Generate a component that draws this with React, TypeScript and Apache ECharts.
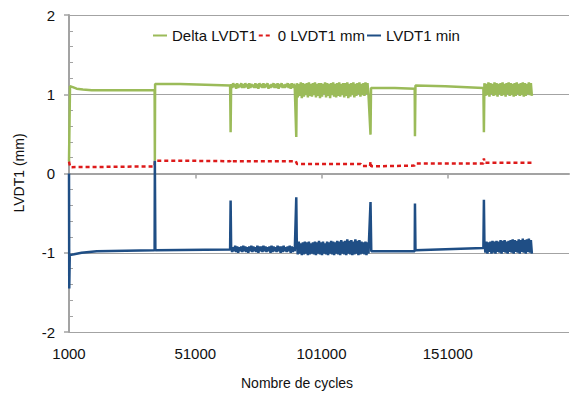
import React, { useEffect, useRef } from "react";
import * as echarts from "echarts";

// ---- Data ----
const xTickStart = 1000;
const xTickStep = 50000;
const xMax = 199000;
const yTicks = [-2, -1, 0, 1, 2];
const legendNames = ["Delta LVDT1", "0 LVDT1 mm", "LVDT1 min"];

// Delta LVDT1 — steady parts and spikes
const deltaPartA: [number, number][] = [
  [1000, 0.15], [1400, 1.1], [2500, 1.09], [4000, 1.07], [6500, 1.06], [10000, 1.05],
  [20000, 1.05], [34900, 1.05], [35000, 0.16], [35100, 1.13], [45000, 1.13], [55000, 1.12],
  [64800, 1.11], [65000, 0.52],
];
const deltaBandA = [
  1.13, 1.08, 1.14, 1.09, 1.13, 1.07, 1.14, 1.08, 1.12, 1.09, 1.14, 1.08, 1.13, 1.08, 1.14, 1.09,
  1.13, 1.07, 1.14, 1.08, 1.13, 1.09, 1.12, 1.08, 1.14, 1.08, 1.13, 1.07, 1.14, 1.09, 1.13, 1.08,
  1.14, 1.08, 1.13, 1.09, 1.14, 1.07, 1.12, 1.08, 1.13, 1.09, 1.14, 1.08, 1.13, 1.08, 1.14, 1.07,
  1.13, 1.09, 1.14, 1.08, 1.12, 1.08, 1.13, 1.09, 1.14, 1.08, 1.13, 1.07, 1.14, 1.08, 1.13, 1.09,
];
const deltaPartB: [number, number][] = [[91000, 0.46]];
const deltaBandB = [
  1.14, 0.96, 1.13, 0.98, 1.15, 0.95, 1.14, 0.97, 1.13, 0.99, 1.14, 0.96, 1.15, 0.98, 1.13, 0.97, 1.14, 0.99,
  1.15, 0.96, 1.13, 0.98, 1.14, 0.95, 1.14, 0.97, 1.13, 1.0, 1.15, 0.96, 1.14, 0.98, 1.13, 0.95, 1.14, 0.99,
  1.15, 0.97, 1.13, 0.96, 1.14, 0.98, 1.15, 0.97, 1.13, 0.99, 1.14, 0.96, 1.14, 0.98, 1.15, 0.95, 1.13, 0.97,
  1.14, 0.99, 1.15, 0.96, 1.13, 0.98, 1.14, 1.0, 1.15, 0.97, 1.13, 0.99, 1.14, 0.98, 1.15, 1.0, 1.14, 0.99,
];
const deltaPartC: [number, number][] = [
  [120400, 0.49], [120600, 1.08], [130000, 1.08], [137900, 1.07], [138000, 0.47], [138200, 1.11],
  [150000, 1.1], [165100, 1.08], [165300, 0.52],
];
const deltaBandC = [
  1.14, 0.98, 1.13, 0.99, 1.15, 0.97, 1.14, 1.0, 1.13, 0.98, 1.15, 0.99, 1.14, 0.97, 1.13, 1.0,
  1.14, 0.98, 1.15, 0.99, 1.13, 0.97, 1.14, 1.0, 1.15, 0.98, 1.14, 0.99, 1.13, 0.97, 1.14, 0.98,
  1.15, 1.0, 1.13, 0.98, 1.14, 0.99, 1.15, 0.97, 1.14, 0.98, 1.13, 1.0, 1.15, 0.99, 1.14, 0.98,
];

// 0 LVDT1 mm
const zeroData: [number, number][] = [
  [1000, 0.15], [1500, 0.08], [20000, 0.085], [34900, 0.09], [35000, 0.16], [50000, 0.16],
  [64800, 0.155], [65000, 0.17], [65300, 0.155], [90800, 0.155], [91000, 0.16], [91300, 0.12],
  [116500, 0.12], [117000, 0.095], [120200, 0.095], [120400, 0.15], [120700, 0.09], [137800, 0.1],
  [138200, 0.125], [165100, 0.125], [165300, 0.19], [165600, 0.135], [184400, 0.135],
];

// LVDT1 min
const minPartA: [number, number][] = [
  [1000, 0], [1100, -1.45], [1300, -1.03], [3000, -1.02], [6000, -1.0], [12000, -0.98],
  [34900, -0.97], [35000, 0.16], [35200, -0.97], [64800, -0.96], [65000, -0.34],
];
const minBandA = [
  -0.92, -0.99, -0.93, -0.98, -0.91, -0.99, -0.92, -1.0, -0.93, -0.98, -0.92, -0.99, -0.91, -0.98, -0.92, -0.99,
  -0.93, -1.0, -0.92, -0.98, -0.91, -0.99, -0.92, -0.98, -0.93, -0.99, -0.91, -1.0, -0.92, -0.98, -0.92, -0.99,
  -0.91, -0.98, -0.92, -0.99, -0.93, -0.98, -0.92, -1.0, -0.91, -0.99, -0.92, -0.98, -0.93, -0.99, -0.91, -0.98,
  -0.92, -1.0, -0.92, -0.99, -0.91, -0.98, -0.93, -0.99, -0.92, -0.98, -0.91, -1.0, -0.92, -0.99, -0.93, -0.98,
];
const minPartB: [number, number][] = [[91000, -0.3]];
const minBandB = [
  -0.87, -1.02, -0.86, -1.01, -0.88, -1.03, -0.87, -1.02, -0.86, -1.01, -0.87, -1.03, -0.86, -1.02, -0.88, -1.01, -0.87, -1.02,
  -0.86, -1.03, -0.87, -1.01, -0.85, -1.02, -0.87, -1.03, -0.86, -1.01, -0.88, -1.02, -0.86, -1.03, -0.87, -1.01, -0.85, -1.02,
  -0.86, -1.03, -0.87, -1.01, -0.85, -1.02, -0.86, -1.03, -0.84, -1.01, -0.86, -1.02, -0.85, -1.03, -0.83, -1.01, -0.85, -1.02,
  -0.84, -1.03, -0.86, -1.02, -0.83, -1.01, -0.85, -1.03, -0.84, -1.02, -0.86, -1.01, -0.87, -1.02, -0.86, -1.03, -0.87, -1.01,
];
const minPartC: [number, number][] = [
  [120400, -0.36], [120700, -0.98], [137900, -0.98], [138000, -0.38], [138200, -0.97],
  [165100, -0.94], [165300, -0.33],
];
const minBandC = [
  -0.87, -1.0, -0.86, -1.01, -0.87, -0.99, -0.86, -1.01, -0.85, -1.0, -0.86, -1.01, -0.85, -0.99, -0.86, -1.0,
  -0.84, -1.01, -0.85, -0.99, -0.84, -1.0, -0.86, -1.01, -0.85, -0.99, -0.84, -1.0, -0.83, -1.01, -0.84, -0.99,
  -0.85, -1.0, -0.83, -1.01, -0.84, -0.99, -0.82, -1.0, -0.84, -1.01, -0.83, -0.99, -0.82, -1.0, -0.84, -1.01,
];

// sampling positions of the noisy bands (cycles)
const bandAStart = 65200, bandBStart = 91200, bandCStart = 165500;
const bandStep = 400;

const band = (start: number, vals: number[]): [number, number][] =>
  vals.map((v, i) => [start + i * bandStep, v]);

const deltaData = [
  ...deltaPartA, ...band(bandAStart, deltaBandA),
  ...deltaPartB, ...band(bandBStart, deltaBandB),
  ...deltaPartC, ...band(bandCStart, deltaBandC),
];
const minData = [
  ...minPartA, ...band(bandAStart, minBandA),
  ...minPartB, ...band(bandBStart, minBandB),
  ...minPartC, ...band(bandCStart, minBandC),
];

const FONT = "Liberation Sans";
const GRAY = "#A3A3A3";
const TXT = "#111111";

export default function App() {
  const ref = useRef<HTMLDivElement>(null);
  useEffect(() => {
    if (!ref.current) return;
    const chart = echarts.init(ref.current, null, { renderer: "svg" });
    chart.setOption({
      animation: false,
      backgroundColor: "#ffffff",
      textStyle: { fontFamily: FONT },
      grid: { left: 69, right: 1, top: 15, bottom: 64 },
      legend: {
        data: legendNames,
        left: 152,
        top: 28,
        padding: 0,
        itemGap: 1,
        itemWidth: 14,
        itemHeight: 10,
        itemStyle: { opacity: 0 },
        textStyle: { fontFamily: FONT, fontSize: 15, color: TXT },
      },
      xAxis: {
        type: "value",
        min: xTickStart,
        max: xMax,
        interval: xTickStep,
        axisLine: { show: true, lineStyle: { color: GRAY, width: 2 } },
        axisTick: { show: true, length: 5, lineStyle: { color: GRAY, width: 1.5 } },
        splitLine: { show: false },
        axisLabel: {
          showMaxLabel: false,
          margin: 14,
          fontSize: 15,
          color: TXT,
          fontFamily: FONT,
          formatter: (v: number) => String(v),
        },
      },
      yAxis: [
        {
          type: "value",
          min: yTicks[0],
          max: yTicks[yTicks.length - 1],
          interval: 1,
          axisLine: { show: true, lineStyle: { color: GRAY, width: 2 } },
          axisTick: { show: true, length: 5, lineStyle: { color: GRAY, width: 1.5 } },
          splitLine: { show: true, lineStyle: { color: GRAY, width: 1 } },
          axisLabel: { margin: 14, fontSize: 15, color: TXT, fontFamily: FONT },
        },
        {
          type: "value",
          position: "left",
          min: -2,
          max: 2,
          interval: 0.2,
          axisLine: { show: false },
          axisTick: { show: true, inside: true, length: 4, lineStyle: { color: GRAY, width: 1 } },
          axisLabel: { show: false },
          splitLine: { show: false },
        },
      ],
      graphic: [
        {
          type: "text",
          x: 19,
          y: 173,
          rotation: Math.PI / 2,
          style: {
            text: "LVDT1 (mm)",
            fontFamily: FONT,
            fontSize: 14,
            fill: TXT,
            textAlign: "center",
            textVerticalAlign: "middle",
          },
        },
        {
          type: "text",
          x: 297,
          y: 383,
          style: {
            text: "Nombre de cycles",
            fontFamily: FONT,
            fontSize: 14,
            fill: TXT,
            textAlign: "center",
            textVerticalAlign: "middle",
          },
        },
      ],
      series: [
        {
          name: legendNames[0],
          type: "line",
          data: deltaData,
          symbol: "none",
          lineStyle: { color: "#9BBB59", width: 2.5 },
          itemStyle: { color: "#9BBB59" },
        },
        {
          name: legendNames[1],
          type: "line",
          data: zeroData,
          symbol: "none",
          lineStyle: { color: "#DD1A1A", width: 2.5, type: [4, 3] },
          itemStyle: { color: "#DD1A1A" },
        },
        {
          name: legendNames[2],
          type: "line",
          data: minData,
          symbol: "none",
          lineStyle: { color: "#1F4E85", width: 2.5 },
          itemStyle: { color: "#1F4E85" },
        },
      ],
    });
    return () => chart.dispose();
  }, []);
  return (
    <div
      ref={ref}
      style={{ position: "fixed", left: 0, top: 0, width: 570, height: 396, background: "#fff" }}
    />
  );
}
